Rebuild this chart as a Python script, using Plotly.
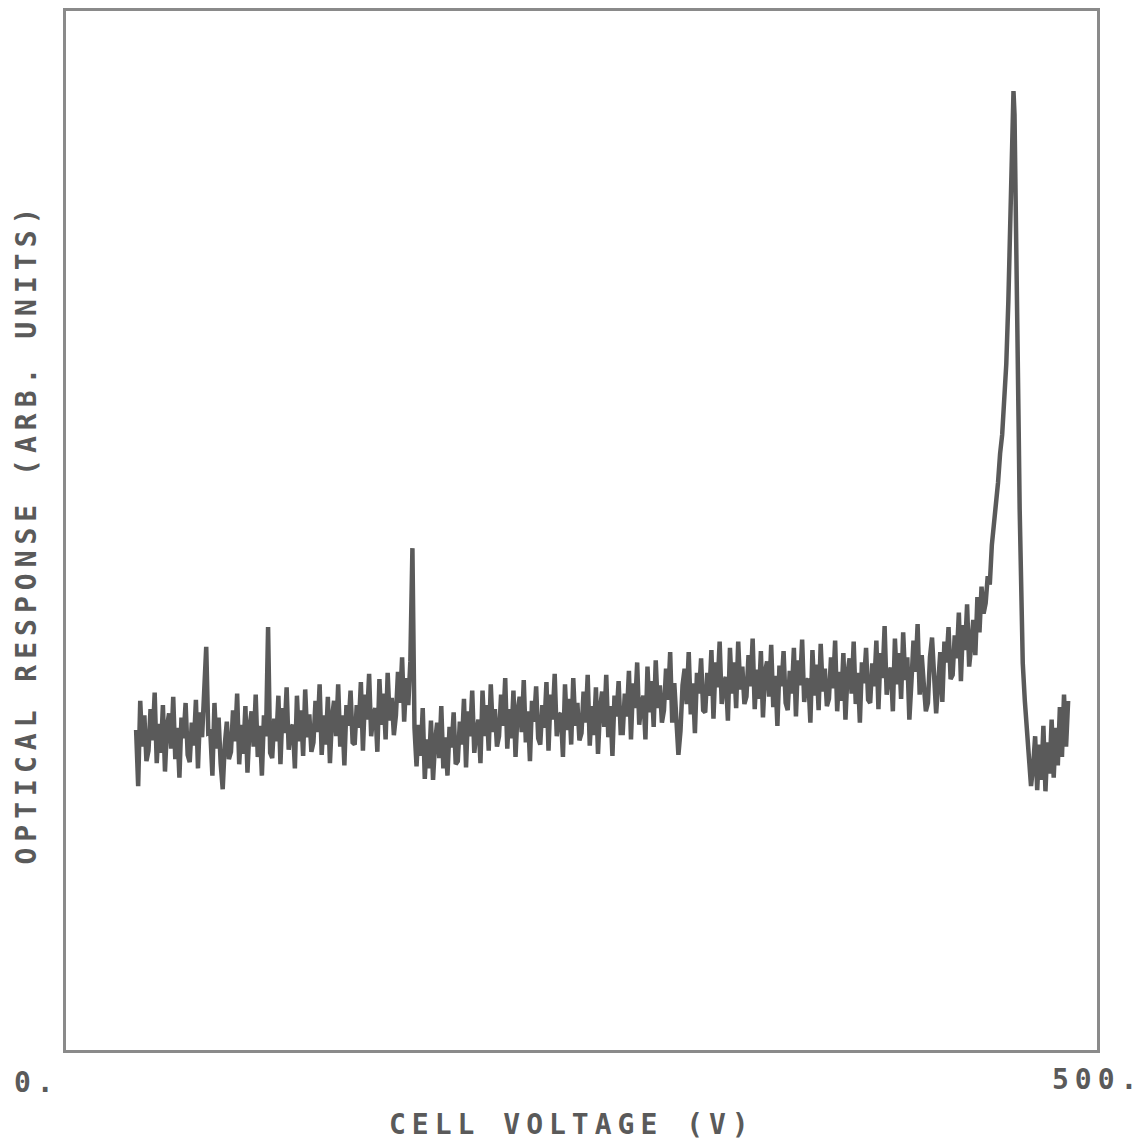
import plotly.graph_objects as go

# ---- data (arbitrary response units 0-100) ----
volts_a = list(range(34, 446))          # 1 V sampling, 34..445 V
resp_a = [
    30.8, 25.4, 33.6, 29.2, 32.2, 27.8,
    28.8, 32.8, 29.8, 34.4, 27.6, 31.4, 28.6, 33.2, 26.8, 31.2,
    32.4, 29.0, 34.0, 28.0, 31.0, 26.2, 32.0, 30.0, 33.4, 28.4,
    27.7, 31.5, 29.3, 33.7, 27.1, 32.5, 30.1, 34.5, 38.8, 30.5,
    30.6, 26.4, 33.4, 29.0, 32.0, 27.6, 25.1, 29.4, 31.6, 28.0,
    28.7, 32.7, 29.7, 34.3, 27.5, 31.3, 28.5, 33.1, 26.7, 31.1,
    32.6, 29.2, 34.2, 28.2, 31.2, 26.4, 32.2, 30.2, 40.7, 28.6,
    28.1, 31.9, 29.7, 34.1, 27.5, 32.9, 30.5, 34.9, 28.9, 30.9,
    31.3, 27.1, 34.1, 29.7, 32.7, 28.3, 34.7, 30.1, 32.3, 28.7,
    29.6, 33.6, 30.6, 35.2, 28.4, 32.2, 29.4, 34.0, 27.6, 32.0,
    33.6, 30.2, 35.2, 29.2, 32.2, 27.4, 33.2, 31.2, 34.6, 29.6,
    29.4, 33.2, 31.0, 35.4, 28.8, 34.2, 31.8, 36.2, 30.2, 32.2,
    32.9, 28.7, 35.7, 31.3, 34.3, 29.9, 36.3, 31.7, 33.9, 30.3,
    32.2, 36.4, 33.4, 37.8, 31.6, 35.8, 33.2, 37.4,
    48.3, 31.0,
    27.3, 31.3, 28.3, 32.9, 26.1, 29.9, 27.1, 31.7, 26.0, 29.7,
    31.5, 28.1, 33.1, 27.1, 30.1, 26.4, 31.1, 29.1, 32.5, 27.5,
    27.8, 31.6, 29.4, 33.8, 27.2, 32.6, 30.2, 34.6, 28.6, 30.6,
    31.8, 27.6, 34.6, 30.2, 33.2, 28.8, 35.2, 30.6, 32.8, 29.2,
    30.2, 34.2, 31.2, 35.8, 29.0, 32.8, 30.0, 34.6, 28.2, 32.6,
    34.0, 30.6, 35.6, 29.6, 32.6, 27.8, 33.6, 31.6, 35.0, 30.0,
    29.4, 33.2, 31.0, 35.4, 28.8, 34.2, 31.8, 36.2, 30.2, 32.2,
    32.4, 28.2, 35.2, 30.8, 33.8, 29.4, 35.8, 31.2, 33.4, 29.8,
    30.5, 34.5, 31.5, 36.1, 29.3, 33.1, 30.3, 34.9, 28.5, 32.9,
    34.5, 31.1, 36.1, 30.1, 33.1, 28.3, 34.1, 32.1, 35.5, 30.5,
    30.5, 34.3, 32.1, 36.5, 29.9, 35.3, 32.9, 37.3, 31.3, 33.3,
    34.1, 29.9, 36.9, 32.5, 35.5, 31.1, 37.5, 32.9, 35.1, 31.5,
    32.7, 36.7, 33.7, 38.3, 31.5, 35.3, 32.5, 28.4, 30.7, 35.1,
    36.7, 33.3, 38.3, 32.3, 35.3, 30.5, 36.3, 34.3, 37.7, 32.7,
    32.5, 36.3, 34.1, 38.5, 31.9, 37.3, 34.9, 39.3, 33.3, 35.3,
    35.9, 31.7, 38.7, 34.3, 37.3, 32.9, 39.3, 34.7, 36.9, 33.3,
    34.0, 38.0, 35.0, 39.6, 32.8, 36.6, 33.8, 38.4, 32.0, 36.4,
    37.4, 34.0, 39.0, 33.0, 36.0, 31.2, 37.0, 35.0, 38.4, 33.4,
    32.7, 36.5, 34.3, 38.7, 32.1, 37.5, 35.1, 39.5, 33.5, 35.5,
    35.7, 31.5, 38.5, 34.1, 37.1, 32.7, 39.1, 34.5, 36.7, 33.1,
    33.8, 37.8, 34.8, 39.4, 32.6, 36.4, 33.6, 38.2, 31.8, 36.2,
    37.7, 34.3, 39.3, 33.3, 36.3, 31.5, 37.3, 35.3, 38.7, 33.7,
    33.4, 37.2, 35.0, 39.4, 32.8, 38.2, 35.8, 40.8, 34.2, 36.2,
    36.8, 32.6, 39.6, 35.2, 38.2, 33.8, 40.2, 35.6, 37.8, 31.8,
    35.4, 39.4, 36.4, 41.0, 34.2, 38.0, 35.2, 32.6, 33.4, 37.8,
    39.7, 36.3, 32.4, 35.3, 38.3, 33.5, 39.3, 37.3, 40.7, 35.7,
    36.1, 39.9, 37.7, 42.1, 35.5, 40.9, 38.5, 42.9, 36.9, 38.9,
    41.4, 38.0, 43.6, 40.2, 44.6, 42.0,
]

volts_peak = [446, 447, 448, 449, 450, 451, 452, 453, 454, 455, 456, 457,
              457.5, 458, 458.5, 459, 459.5, 460, 460.5, 461, 461.5, 462,
              462.5, 463, 463.5, 464, 465, 466, 467, 468, 469]
resp_peak = [43.0, 45.6, 44.8, 48.6, 50.4, 53.0, 54.6, 57.4, 59.2, 62.6, 66.0, 72.0,
             76.0, 81.0, 86.0, 90.0, 92.3, 90.0, 80.0, 72.0, 66.0, 60.0,
             52.0, 45.0, 40.4, 37.2, 33.6, 30.4, 28.0, 25.4, 27.2]

volts_tail = list(range(470, 487))
resp_tail = [30.2, 25.0, 29.4, 26.0, 31.2, 24.9, 29.6, 26.6, 31.8, 26.2,
             31.0, 27.4, 33.0, 28.2, 34.2, 29.2, 33.6]

x_range = [0, 500]
y_range = [0, 100]
x_tick_labels = ["0.", "500."]
x_title = "CELL VOLTAGE (V)"
y_title = "OPTICAL RESPONSE (ARB. UNITS)"

voltage = volts_a + volts_peak + volts_tail
response = resp_a + resp_peak + resp_tail
assert len(voltage) == len(response)

INK = "#5a5a5a"
FONT = "DejaVu Sans Mono"

fig = go.Figure()
fig.add_trace(go.Scatter(
    x=voltage, y=response, mode="lines",
    line=dict(color=INK, width=4.5),
    hoverinfo="skip", showlegend=False,
))

L, R, T, B = 66, 47, 8, 94
fig.update_layout(
    width=1144, height=1144,
    margin=dict(l=L, r=R, t=T, b=B),
    paper_bgcolor="white", plot_bgcolor="white",
    xaxis=dict(range=x_range, showgrid=False, zeroline=False,
               showticklabels=False, ticks="",
               showline=True, mirror=True, linecolor="#8a8a8a", linewidth=3),
    yaxis=dict(range=y_range, showgrid=False, zeroline=False,
               showticklabels=False, ticks="",
               showline=True, mirror=True, linecolor="#8a8a8a", linewidth=3),
)

W, H = 1144 - L - R, 1144 - T - B
def px(xp, yp):
    return (xp - L) / W, (1144 - B - yp) / H

def spaced(t, sp):
    return f'<span style="letter-spacing:{sp}px">{t}</span>'

fnt = dict(family=FONT, size=28, color=INK, weight="bold")
items = [
    (x_tick_labels[0], 12, 1083, "left", 0),
    (x_tick_labels[1], 1050, 1080, "left", 0),
    (x_title, 572, 1125, "center", 0),
    (y_title, 26, 532, "center", -90),
]
for text, xp, yp, xa, ang in items:
    ax, ay = px(xp, yp)
    fig.add_annotation(x=ax, y=ay, xref="paper", yref="paper", text=spaced(text, 6),
                       showarrow=False, font=fnt, xanchor=xa, yanchor="middle",
                       textangle=ang)

fig.write_html("out.html")
